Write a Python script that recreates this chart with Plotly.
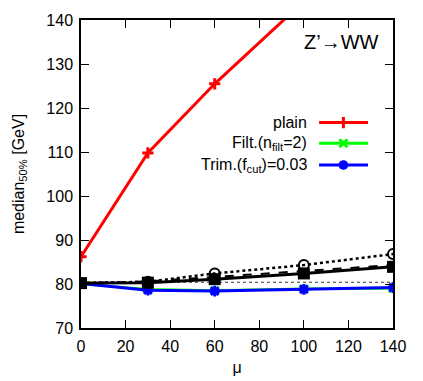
import plotly.graph_objects as go

mu = [0, 30, 60, 100, 140]
plain = [86.2, 109.8, 125.5, 144.5, 163.0]
filt = [80.0, 78.8, 78.5, 78.9, 79.0]
trim = [80.1, 78.6, 78.4, 78.8, 79.2]
black_sq = [80.2, 80.3, 81.1, 82.4, 83.9]
black_dash = [80.2, 80.6, 81.6, 82.9, 84.3]
black_circ = [80.2, 80.5, 82.4, 84.3, 86.8]
w_mass = 80.4

legend_names = ["plain", "Filt.(n<sub>filt</sub>=2)", "Trim.(f<sub>cut</sub>)=0.03"]
legend_colors = ["#ff0000", "#00ff00", "#0000ff"]
legend_symbols = ["cross-thin-open", "x-thin-open", "asterisk-open"]
legend_y = [0.667, 0.600, 0.529]

FONT = "Liberation Sans, Arial, sans-serif"

fig = go.Figure()

# reference line
fig.add_trace(go.Scatter(x=[mu[0], mu[-1]], y=[w_mass, w_mass], mode="lines",
                         line=dict(color="black", width=0.8, dash="dot"), showlegend=False))
fig.add_trace(go.Scatter(x=mu, y=black_circ, mode="lines+markers",
                         line=dict(color="black", width=2.5, dash="dot"),
                         marker=dict(symbol="circle-open", size=10, color="black", line=dict(width=2)),
                         showlegend=False))
fig.add_trace(go.Scatter(x=mu, y=black_dash, mode="lines",
                         line=dict(color="black", width=2, dash="dash"), showlegend=False))
fig.add_trace(go.Scatter(x=mu, y=filt, mode="lines+markers",
                         line=dict(color="#00ff00", width=2.5),
                         marker=dict(symbol="x-thin-open", size=8, color="#00ff00", line=dict(width=2.5, color="#00ff00")),
                         showlegend=False))
fig.add_trace(go.Scatter(x=mu, y=trim, mode="lines+markers",
                         line=dict(color="#0000ff", width=3),
                         marker=dict(symbol="asterisk-open", size=9, color="#0000ff", line=dict(width=3, color="#0000ff")),
                         showlegend=False))
fig.add_trace(go.Scatter(x=mu, y=black_sq, mode="lines+markers",
                         line=dict(color="black", width=3),
                         marker=dict(symbol="square", size=12, color="black"),
                         showlegend=False))
fig.add_trace(go.Scatter(x=mu, y=plain, mode="lines+markers",
                         line=dict(color="#ff0000", width=3),
                         marker=dict(symbol="cross-thin-open", size=8, color="#ff0000", line=dict(width=3, color="#ff0000")),
                         showlegend=False, cliponaxis=True))

# manual legend (samples on right of text)
for name, col, sym, ly in zip(legend_names, legend_colors, legend_symbols, legend_y):
    fig.add_trace(go.Scatter(x=[0.763, 0.92], y=[ly, ly], mode="lines",
                             line=dict(color=col, width=3), xaxis="x2", yaxis="y2", showlegend=False))
    fig.add_trace(go.Scatter(x=[0.841], y=[ly], mode="markers",
                             marker=dict(symbol=sym, size=8, color=col, line=dict(width=3, color=col)),
                             xaxis="x2", yaxis="y2", showlegend=False))
    fig.add_annotation(x=0.731, y=ly, xref="paper", yref="paper", text=name, showarrow=False,
                       xanchor="right", yanchor="middle", font=dict(family=FONT, size=16, color="black"))

fig.add_annotation(x=0.96, y=0.93, xref="paper", yref="paper", text="Z’→WW", showarrow=False,
                   xanchor="right", yanchor="middle", font=dict(family=FONT, size=20, color="black"))

axis_common = dict(showgrid=False, zeroline=False, ticks="inside", ticklen=8, tickwidth=1.2,
                   tickcolor="black", showline=True, linecolor="black", linewidth=1.5, mirror="ticks",
                   tickfont=dict(family=FONT, size=16, color="black"), automargin=False)

fig.update_layout(
    width=415, height=373,
    margin=dict(l=73, r=30, t=12, b=53),
    paper_bgcolor="white", plot_bgcolor="white",
    font=dict(family=FONT, size=16, color="black"),
    xaxis=dict(range=[0, 140], tickmode="array", tickvals=list(range(0, 141, 20)),
               ticklabelstandoff=3,
               title=dict(text="μ", font=dict(family=FONT, size=16), standoff=8), **axis_common),
    yaxis=dict(range=[70, 140], tickmode="array", tickvals=list(range(70, 141, 10)),
               ticklabelstandoff=3,
               title=dict(text="median<sub>50%</sub> [GeV]", font=dict(family=FONT, size=16), standoff=18),
               **axis_common),
    xaxis2=dict(overlaying="x", range=[0, 1], visible=False),
    yaxis2=dict(overlaying="y", range=[0, 1], visible=False),
    showlegend=False,
)

fig.write_html("out.html")
